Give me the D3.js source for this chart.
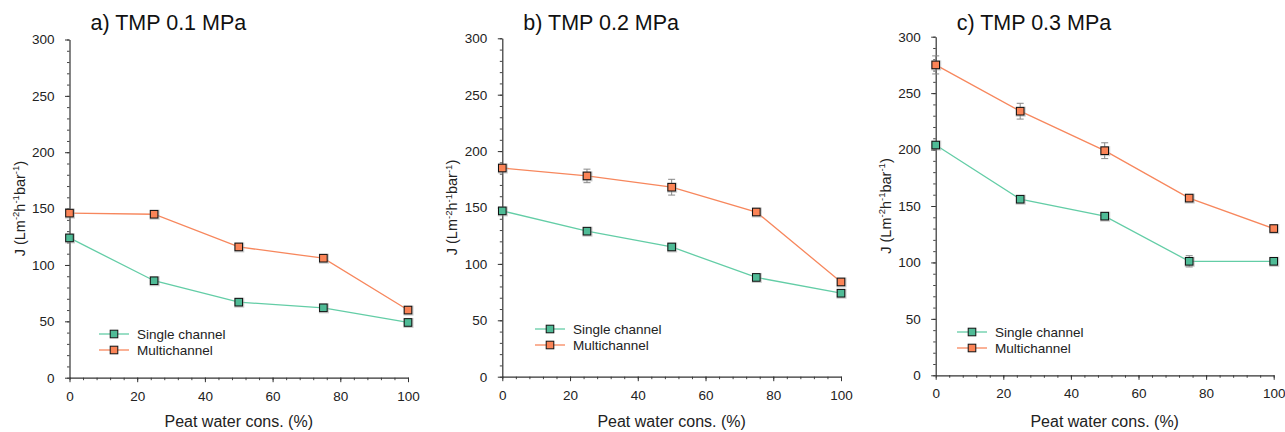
<!DOCTYPE html>
<html>
<head>
<meta charset="utf-8">
<script src="https://cdn.jsdelivr.net/npm/d3@7"></script>
<style>
  body { margin: 0; background: #fff; }
  svg { font-family: "Liberation Sans", Arial, sans-serif; }
</style>
</head>
<body>
<svg id="chart" width="1285" height="432"></svg>
<script>
// data
const concentrations = [0, 25, 50, 75, 100];
const titles = ['a) TMP 0.1 MPa', 'b) TMP 0.2 MPa', 'c) TMP 0.3 MPa'];
const seriesNames = ['Single channel', 'Multichannel'];

const singleA = [124, 86, 67, 62, 49];
const multiA  = [146, 145, 116, 106, 60];
const singleB = [147, 129, 115, 88, 74];
const multiB  = [185, 178, 168, 146, 84];
const singleC = [204, 156, 141, 101, 101];
const multiC  = [275, 234, 199, 157, 130];

// error bars (+/-)
const singleErrA = [1, 1, 1, 1, 1];
const multiErrA  = [1, 1, 1, 1, 1];
const singleErrB = [1, 1, 1, 1, 1];
const multiErrB  = [3, 6, 7, 1, 1];
const singleErrC = [2, 2, 2, 5, 1];
const multiErrC  = [8, 7, 7, 2, 2];

const yTicks = [0, 50, 100, 150, 200, 250, 300];
const xTicks = [0, 20, 40, 60, 80, 100];

const colors = {line: ['#63cda6', '#f7875d'], fill: ['#4fbb96', '#fb8457']};

// layout of the three panels
const panels = [
  {left: 69.5, right: 408, top: 39.5, bottom: 377.7, legX: 99, legY: 334, single: singleA, multi: multiA, sErr: singleErrA, mErr: multiErrA},
  {left: 502.3, right: 841, top: 38.3, bottom: 376.7, legX: 535, legY: 329, single: singleB, multi: multiB, sErr: singleErrB, mErr: multiErrB},
  {left: 935.7, right: 1273.7, top: 36.7, bottom: 375.3, legX: 957, legY: 332, single: singleC, multi: multiC, sErr: singleErrC, mErr: multiErrC}
];

const svg = d3.select('#chart');

panels.forEach((p, pi) => {
  let g = svg.append('g');
  let xScale = d3.scaleLinear().domain([0, 100]).range([p.left, p.right]);
  let yScale = d3.scaleLinear().domain([0, 300]).range([p.bottom, p.top]);

  // minor ticks first
  g.append('g')
    .attr('transform', 'translate(0,' + p.bottom + ')')
    .call(d3.axisBottom(xScale).tickValues(d3.range(0, 101, 4)).tickSize(2.5).tickFormat(''))
    .call(a => a.select('.domain').remove())
    .selectAll('line').attr('stroke', '#444');
  g.append('g')
    .attr('transform', 'translate(' + p.left + ',0)')
    .call(d3.axisLeft(yScale).tickValues(d3.range(0, 301, 10)).tickSize(2.5).tickFormat(''))
    .call(a => a.select('.domain').remove())
    .selectAll('line').attr('stroke', '#444');

  let xAxis = g.append('g')
    .attr('transform', 'translate(0,' + p.bottom + ')')
    .call(d3.axisBottom(xScale).tickValues(xTicks).tickSize(4.5).tickSizeOuter(0).tickPadding(9));
  let yAxis = g.append('g')
    .attr('transform', 'translate(' + p.left + ',0)')
    .call(d3.axisLeft(yScale).tickValues(yTicks).tickSize(4.5).tickSizeOuter(0).tickPadding(10.5));
  [xAxis, yAxis].forEach(a => {
    a.select('.domain').attr('stroke', '#333').attr('stroke-width', 1.2);
    a.selectAll('line').attr('stroke', '#333');
    a.selectAll('text').attr('font-size', 13.5).attr('fill', '#222')
      .attr('font-family', '"Liberation Sans", Arial, sans-serif');
  });

  // titles
  g.append('text')
    .attr('x', p.left + 21)
    .attr('y', 30)
    .attr('font-size', 21.5)
    .attr('fill', '#111')
    .text(titles[pi]);

  g.append('text')
    .attr('x', (p.left + p.right) / 2)
    .attr('y', 427)
    .attr('text-anchor', 'middle')
    .attr('font-size', 16)
    .attr('fill', '#222')
    .text('Peat water cons. (%)');

  let yl = g.append('text')
    .attr('transform', 'translate(' + (p.left - 45) + ',' + ((p.top + p.bottom) / 2) + ') rotate(-90)')
    .attr('text-anchor', 'middle')
    .attr('font-size', 14.5)
    .attr('fill', '#222');
  yl.append('tspan').text('J (Lm');
  yl.append('tspan').attr('dy', -5.5).attr('font-size', 9.5).text('-2');
  yl.append('tspan').attr('dy', 5.5).text('h');
  yl.append('tspan').attr('dy', -5.5).attr('font-size', 9.5).text('-1');
  yl.append('tspan').attr('dy', 5.5).text('bar');
  yl.append('tspan').attr('dy', -5.5).attr('font-size', 9.5).text('-1');
  yl.append('tspan').attr('dy', 5.5).text(')');

  let series = [
    {vals: p.single, err: p.sErr},
    {vals: p.multi, err: p.mErr}
  ];

  let line = d3.line()
    .x(d => xScale(d[0]))
    .y(d => yScale(d[1]));

  series.forEach((s, si) => {
    let pts = concentrations.map((c, i) => [c, s.vals[i], s.err[i]]);
    g.append('path')
      .datum(pts)
      .attr('d', line)
      .attr('fill', 'none')
      .attr('stroke', colors.line[si])
      .attr('stroke-width', 1.3);

    // error bars
    let eb = g.append('g').selectAll('g').data(pts).join('g');
    eb.append('line')
      .attr('x1', d => xScale(d[0])).attr('x2', d => xScale(d[0]))
      .attr('y1', d => yScale(d[1] - d[2])).attr('y2', d => yScale(d[1] + d[2]))
      .attr('stroke', '#888').attr('stroke-width', 1);
    [-1, 1].forEach(sign => {
      eb.append('line')
        .attr('x1', d => xScale(d[0]) - 3.5).attr('x2', d => xScale(d[0]) + 3.5)
        .attr('y1', d => yScale(d[1] + sign * d[2])).attr('y2', d => yScale(d[1] + sign * d[2]))
        .attr('stroke', '#888').attr('stroke-width', 1);
    });

    // shadow + marker
    g.append('g').selectAll('rect').data(pts).join('rect')
      .attr('x', d => xScale(d[0]) - 4.5)
      .attr('y', d => yScale(d[1]) - 4.5)
      .attr('width', 10).attr('height', 10)
      .attr('fill', '#999').attr('opacity', 0.5);
    g.append('g').selectAll('rect').data(pts).join('rect')
      .attr('x', d => xScale(d[0]) - 3.8)
      .attr('y', d => yScale(d[1]) - 3.8)
      .attr('width', 7.6).attr('height', 7.6)
      .attr('fill', colors.fill[si])
      .attr('stroke', '#111').attr('stroke-width', 1);
  });

  // legend
  seriesNames.forEach((name, si) => {
    let ly = p.legY + si * 16;
    g.append('line')
      .attr('x1', p.legX).attr('x2', p.legX + 30)
      .attr('y1', ly).attr('y2', ly)
      .attr('stroke', colors.line[si]).attr('stroke-width', 1.3);
    g.append('rect')
      .attr('x', p.legX + 15 - 3.8).attr('y', ly - 3.8)
      .attr('width', 7.6).attr('height', 7.6)
      .attr('fill', colors.fill[si])
      .attr('stroke', '#111').attr('stroke-width', 1);
    g.append('text')
      .attr('x', p.legX + 38)
      .attr('y', ly + 5)
      .attr('font-size', 13.5)
      .attr('fill', '#222')
      .text(name);
  });
});
</script>
</body>
</html>
